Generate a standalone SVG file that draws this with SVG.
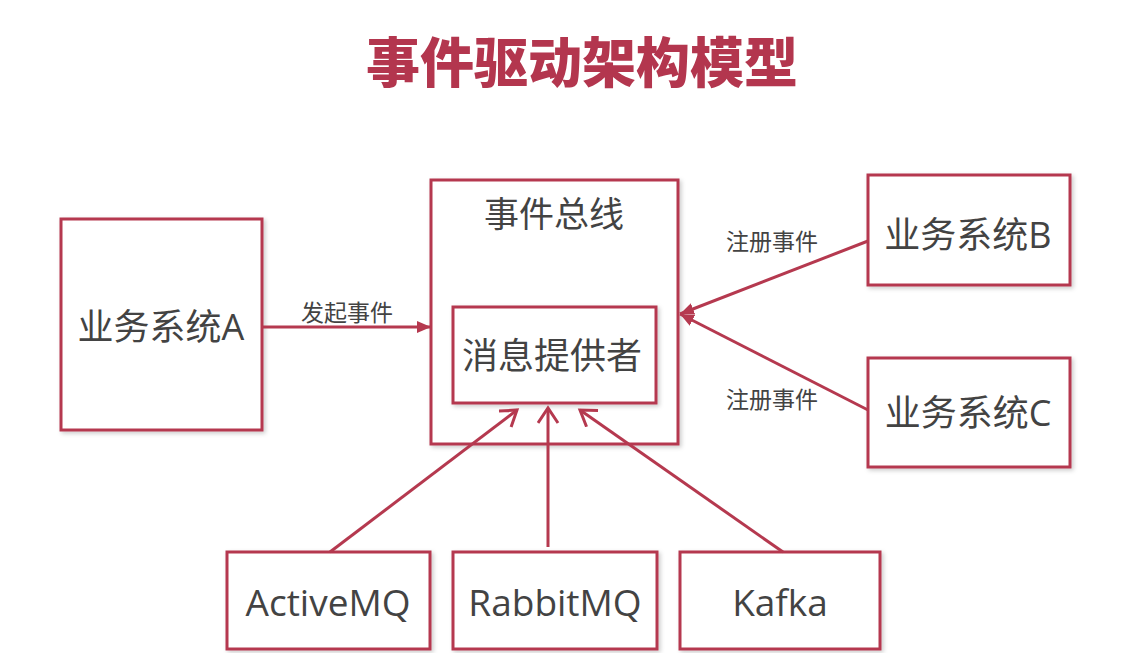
<svg xmlns="http://www.w3.org/2000/svg" width="1138" height="653" viewBox="0 0 1138 653">
<style>
.box{fill:#fff;stroke:#B5394F;stroke-width:3;filter:url(#sh)}
.lbl{font-family:"Open Sans","Noto Sans CJK SC",sans-serif;fill:#434343;text-anchor:middle}
.big{font-size:36px}
.sm{font-size:23px}
.conn{stroke:#B5394F;stroke-width:3;fill:none}
</style>
<defs>
<filter id="sh" x="-10%" y="-10%" width="120%" height="120%">
<feDropShadow dx="2" dy="2" stdDeviation="2" flood-color="#000" flood-opacity="0.2"/>
</filter>
<marker id="fa" markerUnits="userSpaceOnUse" markerWidth="16" markerHeight="14" refX="14" refY="6" orient="auto">
<path d="M0,0 L14,6 L0,12 z" fill="#B5394F"/>
</marker>
<marker id="oa" markerUnits="userSpaceOnUse" markerWidth="20" markerHeight="24" refX="16" refY="11" orient="auto">
<path d="M1,1 L16,11 L1,21" fill="none" stroke="#B5394F" stroke-width="3"/>
</marker>
</defs>
<rect width="1138" height="653" fill="#fff"/>
<text x="582" y="83" font-family="'Noto Sans CJK SC',sans-serif" font-size="54" font-weight="900" fill="#B3364E" text-anchor="middle">事件驱动架构模型</text>

<g id="bus">
<rect class="box" x="431" y="180" width="247" height="264"/>
<text class="lbl" x="554" y="227" font-size="35">事件总线</text>
</g>
<g id="provider">
<rect class="box" x="453" y="307" width="203" height="96"/>
<text class="lbl big" x="552" y="369">消息提供者</text>
</g>
<g id="sysA">
<rect class="box" x="61" y="219" width="201" height="211"/>
<text class="lbl big" x="161" y="340">业务系统A</text>
</g>
<g id="sysB">
<rect class="box" x="868" y="175" width="202" height="110"/>
<text class="lbl big" x="968" y="248">业务系统B</text>
</g>
<g id="sysC">
<rect class="box" x="868" y="358" width="202" height="109"/>
<text class="lbl big" x="968" y="426">业务系统C</text>
</g>
<g id="activemq">
<rect class="box" x="227" y="552" width="203" height="97"/>
<text class="lbl" x="328" y="616" font-size="37">ActiveMQ</text>
</g>
<g id="rabbitmq">
<rect class="box" x="453" y="552" width="204" height="97"/>
<text class="lbl" x="555" y="616" font-size="37">RabbitMQ</text>
</g>
<g id="kafka">
<rect class="box" x="680" y="552" width="200" height="97"/>
<text class="lbl" x="780" y="616" font-size="37">Kafka</text>
</g>

<g id="connectors">
<line class="conn" x1="262" y1="327" x2="431" y2="327" marker-end="url(#fa)"/>
<text class="lbl sm" x="347" y="321">发起事件</text>
<line class="conn" x1="868" y1="241" x2="680" y2="314" marker-end="url(#fa)"/>
<text class="lbl sm" x="772" y="250">注册事件</text>
<line class="conn" x1="868" y1="410" x2="680" y2="314" marker-end="url(#fa)"/>
<text class="lbl sm" x="772" y="408">注册事件</text>
<line class="conn" x1="330" y1="552" x2="517" y2="410" marker-end="url(#oa)"/>
<line class="conn" x1="548" y1="547" x2="548" y2="408" marker-end="url(#oa)"/>
<line class="conn" x1="783" y1="552" x2="580" y2="410" marker-end="url(#oa)"/>
</g>
</svg>
